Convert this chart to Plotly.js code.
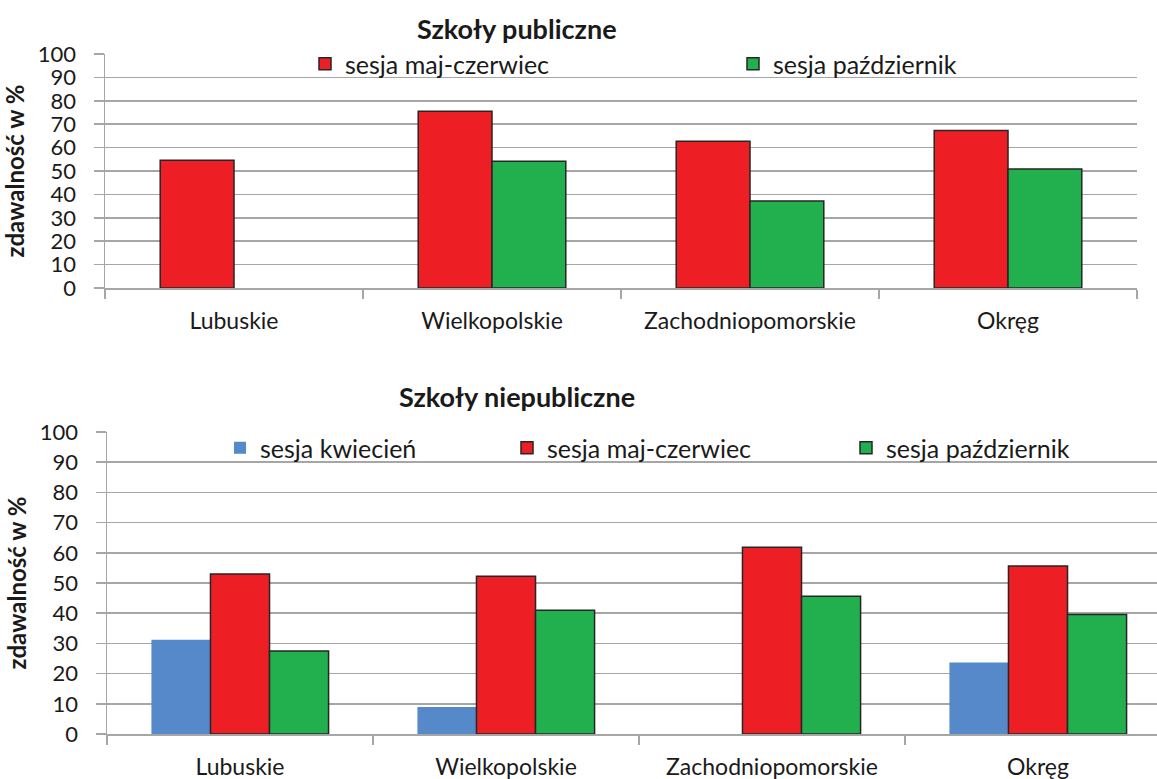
<!DOCTYPE html>
<html>
<head>
<meta charset="utf-8">
<script src="https://cdn.plot.ly/plotly-3.0.1.min.js"></script>
<style>html,body{margin:0;padding:0;background:#fff;}#chart{width:1157px;height:779px;}</style>
</head>
<body>
<div id="chart"></div>
<script>
const categories = ["Lubuskie", "Wielkopolskie", "Zachodniopomorskie", "Okręg"];
// Szkoły publiczne
const pubMajCzerwiec = [54.6, 75.5, 62.7, 67.3];
const pubPazdziernik = [null, 54.2, 37.2, 50.9];
// Szkoły niepubliczne
const niepubKwiecien = [31.2, 8.9, null, 23.7];
const niepubMajCzerwiec = [53.0, 52.2, 61.8, 55.6];
const niepubPazdziernik = [27.5, 41.0, 45.6, 39.6];

const seriesNames = ["sesja kwiecień", "sesja maj-czerwiec", "sesja październik"];
const chartTitles = ["Szkoły publiczne", "Szkoły niepubliczne"];
const yTitle = "zdawalność w %";

const RED = "#ED1F24", GREEN = "#22B04E", BLUE = "#5589C9";
const FONT = "Lato, 'Open Sans', sans-serif";
const GRID = "#A6A6A6";
const TXT = "#1a1a1a";
const outline = {color: "#262626", width: 1.5};

const L = 100, W = 1157, H = 779;
const px = v => (v - L) / (W - L);
const py = v => 1 - v / H;

const traces = [
  {type: "bar", x: categories, y: pubMajCzerwiec, name: seriesNames[1], xaxis: "x", yaxis: "y",
   marker: {color: RED, line: outline}, width: 0.286, offset: -0.286, legend: "legend"},
  {type: "bar", x: categories, y: pubPazdziernik, name: seriesNames[2], xaxis: "x", yaxis: "y",
   marker: {color: GREEN, line: outline}, width: 0.286, offset: 0, legend: "legend2"},
  {type: "bar", x: categories, y: niepubKwiecien, name: seriesNames[0], xaxis: "x2", yaxis: "y2",
   marker: {color: BLUE, line: {color: BLUE, width: 0}}, width: 0.222, offset: -0.333, legend: "legend3"},
  {type: "bar", x: categories, y: niepubMajCzerwiec, name: seriesNames[1], xaxis: "x2", yaxis: "y2",
   marker: {color: RED, line: outline}, width: 0.222, offset: -0.111, legend: "legend4"},
  {type: "bar", x: categories, y: niepubPazdziernik, name: seriesNames[2], xaxis: "x2", yaxis: "y2",
   marker: {color: GREEN, line: outline}, width: 0.222, offset: 0.111, legend: "legend5"}
];

function yax(domain, anchor) {
  return {
    domain: domain, anchor: anchor, range: [0, 100], dtick: 10, tick0: 0,
    showgrid: true, gridcolor: GRID, gridwidth: 1.5, zeroline: false,
    showline: true, linecolor: GRID, linewidth: 1.5,
    ticks: "outside", ticklen: 10, tickcolor: GRID, tickwidth: 1.5,
    tickfont: {family: FONT, size: 22, color: TXT}, ticklabelstandoff: 13,
    title: {text: yTitle, font: {family: FONT, size: 24, color: TXT, weight: "bold"}, standoff: 6},
    fixedrange: true
  };
}
function xax(domain, anchor, range) {
  return {
    domain: domain, anchor: anchor, range: range, type: "category",
    showgrid: false, zeroline: false, showline: true, linecolor: GRID, linewidth: 1.5,
    ticks: "outside", tickson: "boundaries", ticklen: 9, tickcolor: GRID, tickwidth: 1.5,
    tickfont: {family: FONT, size: 23, color: TXT}, ticklabelstandoff: 12,
    fixedrange: true
  };
}

function leg(xPix, yPix) {
  return {x: px(xPix), y: py(yPix), xanchor: "left", yanchor: "middle", orientation: "h",
    bgcolor: "rgba(0,0,0,0)", font: {family: FONT, size: 25, color: TXT}, itemclick: false, itemdoubleclick: false};
}

const layout = {
  width: W, height: H,
  margin: {l: L, r: 0, t: 0, b: 0},
  paper_bgcolor: "#fff", plot_bgcolor: "#fff",
  showlegend: true,
  xaxis: xax([px(105), px(1137)], "y", [-0.5, 3.5]),
  yaxis: yax([py(288), py(54)], "x"),
  xaxis2: xax([px(107), 1], "y2", [-0.5, -0.5 + 1050 / 266]),
  yaxis2: yax([py(734), py(432)], "x2"),
  legend: leg(305, 64),
  legend2: leg(733, 64),
  legend3: leg(220, 448),
  legend4: leg(507, 448),
  legend5: leg(846, 448),
  annotations: [
    {text: chartTitles[0], xref: "paper", yref: "paper", x: px(517), y: py(28), xanchor: "center", yanchor: "middle",
     showarrow: false, font: {family: FONT, size: 27, color: TXT, weight: "bold"}},
    {text: chartTitles[1], xref: "paper", yref: "paper", x: px(517), y: py(396), xanchor: "center", yanchor: "middle",
     showarrow: false, font: {family: FONT, size: 27, color: TXT, weight: "bold"}}
  ]
};

Plotly.newPlot("chart", traces, layout, {displayModeBar: false, staticPlot: true});
</script>
</body>
</html>
